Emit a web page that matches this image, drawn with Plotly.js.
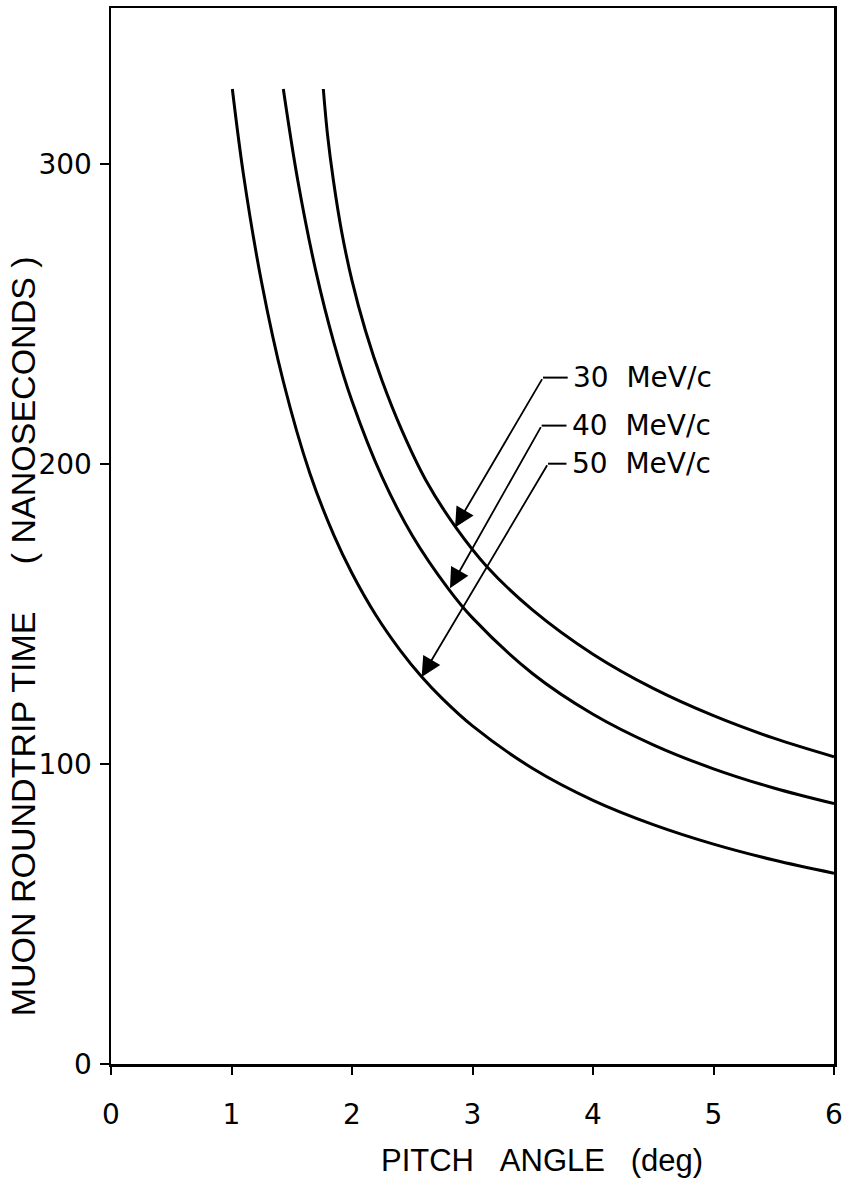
<!DOCTYPE html>
<html>
<head>
<meta charset="utf-8">
<script src="https://cdn.plot.ly/plotly-3.0.1.min.js"></script>
<style>
  html, body { margin: 0; padding: 0; background: #ffffff; }
  #chart { width: 844px; height: 1185px; }
</style>
</head>
<body>
<div id="chart"></div>
<script>
// Pitch angle (deg) and muon roundtrip time (ns)
var angle30 = [1.762, 1.797, 1.846, 1.913, 2.0, 2.112, 2.249, 2.415, 2.614, 2.863, 3.124, 3.5, 4.0, 4.5, 5.0, 5.5, 6.0];
var time30  = [325, 309.7, 294.4, 277.7, 261.1, 244.4, 227.8, 211.1, 194.5, 178.8, 165.6, 151.3, 136.6, 125.2, 116.1, 108.6, 102.4];

var angle40 = [1.43, 1.55, 1.7, 1.85, 2.0, 2.25, 2.5, 2.8, 3.0, 3.5, 4.0, 4.5, 5.0, 5.5, 6.0];
var time40  = [325, 294.5, 264.3, 240.4, 221.0, 195.6, 176.2, 158.4, 148.7, 130.1, 116.6, 106.4, 98.4, 92.0, 86.8];

var angle50 = [1.007, 1.1, 1.25, 1.43, 1.65, 1.85, 2.0, 2.2, 2.4, 2.578, 2.75, 3.0, 3.5, 4.0, 4.5, 5.0, 5.5, 6.0];
var time50  = [325, 296.3, 260.5, 227.5, 196.9, 176.2, 163.6, 149.5, 137.9, 129.1, 121.8, 112.7, 98.5, 87.9, 79.8, 73.3, 68.0, 63.6];

var seriesLabels = ["30 MeV/c", "40 MeV/c", "50 MeV/c"];
var xTickVals = [0, 1, 2, 3, 4, 5, 6];
var xTickText = ["0", "1", "2", "3", "4", "5", "6"];
var yTickVals = [0, 100, 200, 300];
var yTickText = ["0", "100", "200", "300"];

var lineStyle = {color: "#000000", width: 3, shape: "spline", smoothing: 1};

var traces = [
  {x: angle30, y: time30, mode: "lines", line: lineStyle, name: seriesLabels[0], hoverinfo: "skip"},
  {x: angle40, y: time40, mode: "lines", line: lineStyle, name: seriesLabels[1], hoverinfo: "skip"},
  {x: angle50, y: time50, mode: "lines", line: lineStyle, name: seriesLabels[2], hoverinfo: "skip"}
];

var NB = "\u00a0";
var tickFont = {family: "DejaVu Sans, sans-serif", size: 28, color: "#000000"};
var labelFont = {family: "DejaVu Sans, sans-serif", size: 28, color: "#000000"};

// leader geometry (layout positions, data coordinates)
var leaders = [
  {head: [2.855, 178.8], bend: [3.585, 228.8], end: 3.79, label: seriesLabels[0]},
  {head: [2.813, 158.6], bend: [3.574, 212.8], end: 3.78, label: seriesLabels[1]},
  {head: [2.578, 129.0], bend: [3.627, 200.1], end: 3.78, label: seriesLabels[2]}
];

var annotations = [];
var shapes = [];
leaders.forEach(function (L) {
  annotations.push({
    x: L.head[0], y: L.head[1], xref: "x", yref: "y",
    ax: L.bend[0], ay: L.bend[1], axref: "x", ayref: "y",
    text: "", showarrow: true, arrowhead: 2, arrowsize: 2.2, arrowwidth: 1.8,
    arrowcolor: "#000000", standoff: 0, startstandoff: 0
  });
  shapes.push({
    type: "line", xref: "x", yref: "y",
    x0: L.bend[0], y0: L.bend[1], x1: L.end, y1: L.bend[1],
    line: {color: "#000000", width: 2}
  });
  annotations.push({
    x: L.end + 0.03, y: L.bend[1], xref: "x", yref: "y",
    text: L.label.replace(" ", NB + NB), showarrow: false,
    xanchor: "left", yanchor: "middle", font: labelFont
  });
});

// axis titles as annotations (placed as in the original)
annotations.push({
  x: 3.573, y: -0.091, xref: "x", yref: "paper",
  text: "PITCH" + NB + NB + NB + "ANGLE" + NB + NB + NB + "(deg)",
  showarrow: false, xanchor: "center", yanchor: "middle",
  font: {family: "Liberation Sans, Arial, sans-serif", size: 31, color: "#000000"}
});
annotations.push({
  x: -0.1215, y: 142.6, xref: "paper", yref: "y",
  text: "MUON ROUNDTRIP TIME" + NB + NB + NB + NB + NB + "(" + NB + "NANOSECONDS" + NB + ")",
  textangle: -90, showarrow: false, xanchor: "center", yanchor: "middle",
  font: {family: "Liberation Sans, Arial, sans-serif", size: 34, color: "#000000"}
});

var layout = {
  width: 844, height: 1185,
  margin: {l: 111, r: 10, t: 8, b: 121, pad: 0},
  paper_bgcolor: "#ffffff", plot_bgcolor: "#ffffff",
  showlegend: false,
  xaxis: {
    range: [0, 6], tickvals: xTickVals, ticktext: xTickText,
    ticks: "outside", ticklen: 8, tickwidth: 2, tickcolor: "#000000",
    showline: true, linewidth: 2.5, linecolor: "#000000", mirror: true,
    showgrid: false, zeroline: false, tickfont: tickFont, ticklabelstandoff: 16
  },
  yaxis: {
    range: [0, 352], tickvals: yTickVals, ticktext: yTickText,
    ticks: "outside", ticklen: 9, tickwidth: 2, tickcolor: "#000000",
    showline: true, linewidth: 2.5, linecolor: "#000000", mirror: true,
    showgrid: false, zeroline: false, tickfont: tickFont, ticklabelstandoff: 2
  },
  annotations: annotations,
  shapes: shapes
};

Plotly.newPlot("chart", traces, layout, {staticPlot: true, displayModeBar: false});
</script>
</body>
</html>
